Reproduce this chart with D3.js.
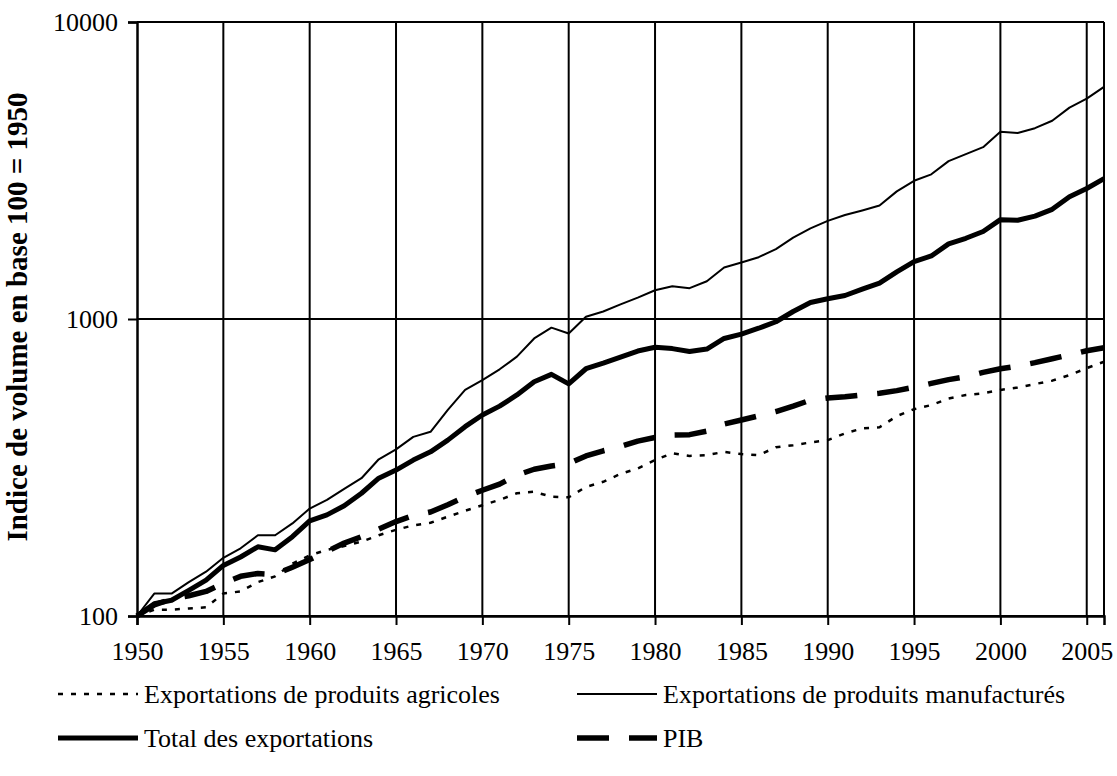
<!DOCTYPE html>
<html>
<head>
<meta charset="utf-8">
<script src="https://cdn.jsdelivr.net/npm/d3@7"></script>
<style>
  body { margin: 0; background: #fff; }
  svg text { font-family: "Liberation Serif", "Times New Roman", serif; fill: #000; }
</style>
</head>
<body>
<div id="chart"></div>
<script>
// Valeurs (indice base 100 = 1950)
const YEARS = d3.range(1950, 2007);

const AGRICOLES = [
  100, 105, 105, 106, 107, 119, 121, 130, 136, 150,
  160, 167, 172, 178, 187, 195, 202, 206, 216, 226,
  236, 246, 259, 262, 252, 251, 272, 283, 301, 314,
  335, 353, 346, 348, 357, 351, 348, 370, 376, 384,
  391, 412, 428, 432, 471, 497, 513, 540, 555, 562,
  577, 588, 604, 620, 647, 683, 718
];

const MANUFACTURES = [
  100, 119, 119, 130, 141, 157, 169, 187, 187, 205,
  230, 246, 268, 291, 337, 364, 401, 417, 494, 577,
  623, 677, 747, 860, 935, 894, 1018, 1060, 1120, 1180,
  1250, 1290, 1270, 1340, 1490, 1550, 1615, 1720, 1880, 2020,
  2140, 2240, 2320, 2410, 2690, 2920, 3070, 3400, 3590, 3790,
  4270, 4230, 4390, 4650, 5150, 5520, 6050
];

const TOTAL = [
  100, 110, 113, 122, 132, 148, 158, 171, 167, 185,
  209, 219, 235, 259, 291, 310, 335, 357, 391, 434,
  475, 509, 555, 615, 651, 605, 680, 710, 744, 780,
  803, 795, 777, 792, 860, 889, 931, 979, 1060, 1136,
  1170, 1200, 1260, 1320, 1440, 1560, 1630, 1790, 1870, 1970,
  2160, 2150, 2220, 2340, 2580, 2750, 2970
];

const PIB = [
  100, 109, 114, 117, 121, 129, 136, 139, 138, 146,
  155, 165, 176, 185, 196, 208, 218, 224, 237, 252,
  265, 278, 298, 312, 320, 326, 346, 360, 372, 388,
  399, 407, 408, 419, 443, 457, 472, 488, 509, 533,
  542, 547, 555, 562, 574, 589, 607, 625, 639, 661,
  680, 694, 713, 735, 757, 782, 800
];

const X_TICKS = d3.range(1950, 2006, 5);
const Y_TICKS = [100, 1000, 10000];
const Y_LABEL = "Indice de volume en base 100 = 1950";

const SERIES = [
  { name: "Exportations de produits agricoles", values: AGRICOLES, width: 2.5, dash: "5,8" },
  { name: "Exportations de produits manufacturés", values: MANUFACTURES, width: 2, dash: null },
  { name: "Total des exportations", values: TOTAL, width: 5, dash: null },
  { name: "PIB", values: PIB, width: 5.5, dash: "32,20" }
];

const WIDTH = 1117;
const HEIGHT = 776;
const PLOT = { left: 137, right: 1104, top: 22, bottom: 616 };
const FONT = "'Liberation Serif', 'Times New Roman', serif";

const SVG = d3.select("#chart").append("svg")
  .attr("width", WIDTH)
  .attr("height", HEIGHT);

const X = d3.scaleLinear()
  .domain([1950, 2006])
  .range([PLOT.left, PLOT.right]);

const Y = d3.scaleLog()
  .domain([100, 10000])
  .range([PLOT.bottom, PLOT.top]);

// GRILLE
SVG.append("g")
  .selectAll("line")
  .data(X_TICKS.filter(d => d > 1950))
  .join("line")
  .attr("x1", d => X(d)).attr("x2", d => X(d))
  .attr("y1", PLOT.top).attr("y2", PLOT.bottom)
  .attr("stroke", "#000")
  .attr("stroke-width", 2);

SVG.append("g")
  .selectAll("line")
  .data(Y_TICKS)
  .join("line")
  .attr("x1", PLOT.left).attr("x2", PLOT.right)
  .attr("y1", d => Y(d)).attr("y2", d => Y(d))
  .attr("stroke", "#000")
  .attr("stroke-width", 2);

SVG.append("line")
  .attr("x1", PLOT.right).attr("x2", PLOT.right)
  .attr("y1", PLOT.top).attr("y2", PLOT.bottom)
  .attr("stroke", "#000")
  .attr("stroke-width", 2);

// AXES
const xAxis = SVG.append("g")
  .attr("transform", `translate(0,${PLOT.bottom})`)
  .call(d3.axisBottom(X).tickValues(X_TICKS).tickFormat(d3.format("d")).tickSize(9).tickPadding(17));

const yAxis = SVG.append("g")
  .attr("transform", `translate(${PLOT.left},0)`)
  .call(d3.axisLeft(Y).tickValues(Y_TICKS).tickFormat(d3.format("d")).tickSize(9).tickPadding(10));

[xAxis, yAxis].forEach(a => {
  a.attr("font-family", null);
  a.select(".domain").attr("stroke", "#000").attr("stroke-width", 2.5);
  a.selectAll(".tick line").attr("stroke", "#000").attr("stroke-width", 2);
  a.selectAll(".tick text")
    .style("font-family", FONT)
    .attr("font-size", 26)
    .attr("fill", "#000");
});

SVG.append("text")
  .attr("transform", `translate(27,${(PLOT.top + PLOT.bottom) / 2 - 2}) rotate(-90)`)
  .attr("text-anchor", "middle")
  .attr("font-size", 29)
  .attr("font-weight", "bold")
  .style("font-family", FONT)
  .text(Y_LABEL);

// COURBES
const LINE = d3.line()
  .x((d, i) => X(YEARS[i]))
  .y(d => Y(d));

SVG.append("g")
  .selectAll("path")
  .data(SERIES)
  .join("path")
  .attr("d", d => LINE(d.values))
  .attr("fill", "none")
  .attr("stroke", "#000")
  .attr("stroke-width", d => d.width)
  .attr("stroke-dasharray", d => d.dash)
  .attr("stroke-linejoin", "round");

// LEGENDE
const LEGEND_POS = [
  { x: 58, y: 694 },
  { x: 577, y: 694 },
  { x: 58, y: 738 },
  { x: 577, y: 738 }
];

const legend = SVG.append("g")
  .selectAll("g")
  .data(SERIES)
  .join("g")
  .attr("transform", (d, i) => `translate(${LEGEND_POS[i].x},${LEGEND_POS[i].y})`);

legend.append("line")
  .attr("x1", 0).attr("x2", 80)
  .attr("stroke", "#000")
  .attr("stroke-width", d => d.width)
  .attr("stroke-dasharray", d => d.dash);

legend.append("text")
  .attr("x", 86)
  .attr("dy", "0.35em")
  .attr("font-size", 26)
  .style("font-family", FONT)
  .text(d => d.name);
</script>
</body>
</html>
